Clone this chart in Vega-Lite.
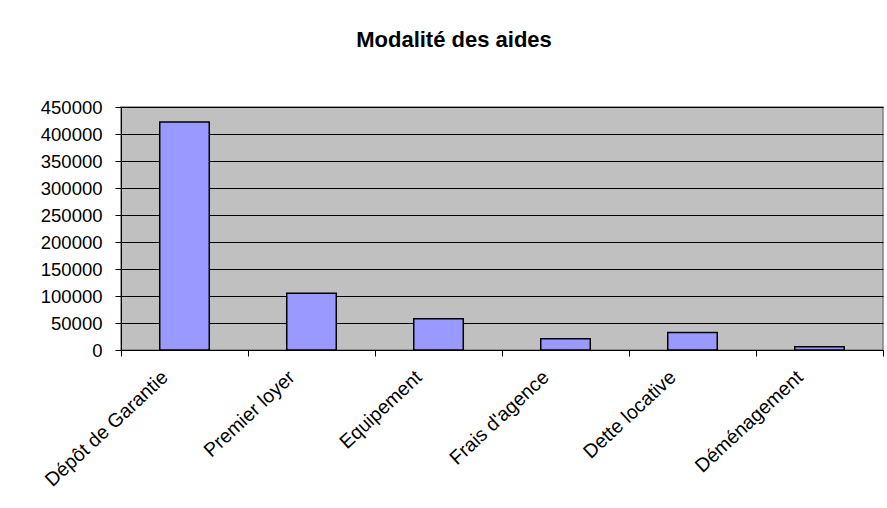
{
  "$schema": "https://vega.github.io/schema/vega-lite/v6.json",
  "autosize": "none",
  "width": 762,
  "height": 243,
  "padding": {"left": 121, "top": 107, "right": 4, "bottom": 158},
  "background": "white",
  "title": {
    "text": "Modalité des aides",
    "font": "Liberation Sans",
    "fontSize": 22,
    "fontWeight": "bold",
    "color": "black",
    "anchor": "middle",
    "dx": -48,
    "baseline": "alphabetic",
    "offset": 29
  },
  "data": {
    "values": [
      {"modalite": "Dépôt de Garantie", "montant": 422000},
      {"modalite": "Premier loyer", "montant": 105000},
      {"modalite": "Equipement", "montant": 58000},
      {"modalite": "Frais d'agence", "montant": 21000},
      {"modalite": "Dette locative", "montant": 32500},
      {"modalite": "Déménagement", "montant": 6000}
    ]
  },
  "mark": {"type": "bar", "fill": "#9999FF", "stroke": "black", "strokeWidth": 1.5, "width": {"band": 0.39}},
  "encoding": {
    "x": {
      "field": "modalite",
      "type": "nominal",
      "sort": null,
      "scale": {"paddingInner": 0, "paddingOuter": 0},
      "axis": {
        "title": null,
        "labelAngle": -43,
        "labelAlign": "right",
        "labelBaseline": "middle",
        "labelFont": "Liberation Sans",
        "labelFontSize": 19.5,
        "labelColor": "black",
        "labelPadding": 18,
        "labelOffset": -20,
        "tickBand": "extent",
        "tickSize": 6,
        "tickColor": "black",
        "domainColor": "black",
        "grid": false
      }
    },
    "y": {
      "field": "montant",
      "type": "quantitative",
      "scale": {"domain": [0, 450000], "nice": false},
      "axis": {
        "title": null,
        "values": [0, 50000, 100000, 150000, 200000, 250000, 300000, 350000, 400000, 450000],
        "format": "d",
        "labelFont": "Liberation Sans",
        "labelFontSize": 18.5,
        "labelColor": "black",
        "labelPadding": 13,
        "tickSize": 6,
        "tickColor": "black",
        "domainColor": "black",
        "grid": true,
        "gridColor": "black",
        "gridOpacity": 1,
        "gridWidth": 1
      }
    }
  },
  "config": {
    "view": {"fill": "#C0C0C0", "stroke": "#808080", "strokeWidth": 1.5}
  }
}
